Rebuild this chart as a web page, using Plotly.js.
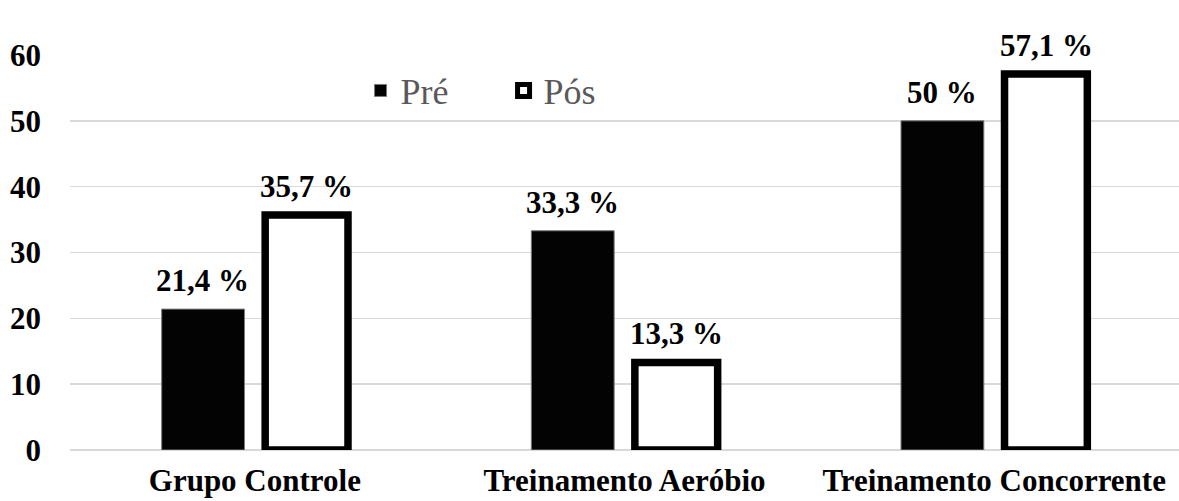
<!DOCTYPE html>
<html>
<head>
<meta charset="utf-8">
<script src="https://cdn.plot.ly/plotly-3.0.1.min.js"></script>
<style>html,body{margin:0;padding:0;background:#fff;}#chart{width:1179px;height:501px;}</style>
</head>
<body>
<div id="chart"></div>
<script>
var categories = ["Grupo Controle", "Treinamento Aeróbio", "Treinamento Concorrente"];
var preValues = [21.4, 33.3, 50];
var posValues = [35.7, 13.3, 57.1];
var preLabels = ["21,4 %", "33,3 %", "50 %"];
var posLabels = ["35,7 %", "13,3 %", "57,1 %"];
var yTicks = [0, 10, 20, 30, 40, 50, 60];

var serif = "'Liberation Serif', 'Times New Roman', serif";
var labelFont = {family: serif, size: 31, color: "#000", weight: "bold"};

var pre = {
  type: "bar", name: "Pré", x: categories, y: preValues,
  marker: {color: "#030303", line: {color: "#7a7a7a", width: 1}}
};
var pos = {
  type: "bar", name: "Pós", x: categories, y: posValues,
  marker: {color: "#ffffff", line: {color: "#000000", width: 7.5}}
};

var annotations = [];
categories.forEach(function (c, i) {
  annotations.push({x: c, y: preValues[i], xref: "x", yref: "y", text: preLabels[i],
    showarrow: false, yanchor: "bottom", yshift: 9, xshift: -52, font: labelFont});
  annotations.push({x: c, y: posValues[i], xref: "x", yref: "y", text: posLabels[i],
    showarrow: false, yanchor: "bottom", yshift: 9, xshift: 52, font: labelFont});
});

var layout = {
  width: 1179, height: 501,
  margin: {l: 70, r: 0, t: 55, b: 51},
  paper_bgcolor: "#fff", plot_bgcolor: "#fff",
  barmode: "group", bargap: 0.44, bargroupgap: 0.2,
  showlegend: true,
  annotations: annotations,
  legend: {
    orientation: "h", x: 0.262, y: 0.91, xanchor: "left", yanchor: "middle",
    font: {family: serif, size: 36, color: "#595959"},
    bgcolor: "rgba(0,0,0,0)", traceorder: "normal",
    entrywidth: 98, itemwidth: 30
  },
  xaxis: {
    type: "category", showgrid: false, zeroline: false, showline: false,
    ticks: "", tickfont: labelFont,
    ticklabelstandoff: 9
  },
  yaxis: {
    range: [0, 60], tickvals: yTicks, ticktext: yTicks.map(String),
    showgrid: true, gridcolor: "#d9d9d9", gridwidth: 1.5,
    zeroline: true, zerolinecolor: "#d9d9d9", zerolinewidth: 1.5,
    showline: false, ticks: "",
    tickfont: labelFont,
    ticklabelstandoff: 28
  }
};

Plotly.newPlot("chart", [pre, pos], layout, {displayModeBar: false, staticPlot: true});
</script>
</body>
</html>
